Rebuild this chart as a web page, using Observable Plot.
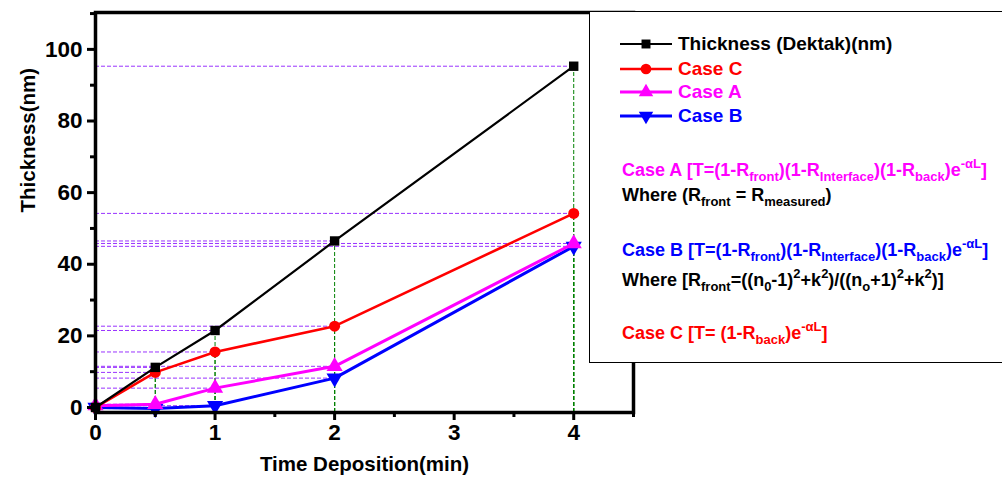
<!DOCTYPE html>
<html>
<head>
<meta charset="utf-8">
<script src="https://cdn.jsdelivr.net/npm/d3@7"></script>
<script src="https://cdn.jsdelivr.net/npm/@observablehq/plot@0.6"></script>
<style>
  html, body { margin: 0; padding: 0; background: #fff; }
  body { width: 1002px; height: 484px; position: relative; overflow: hidden; font-family: "Liberation Sans", Arial, sans-serif; }
  #chart svg text { font-weight: bold; }
  #legend { position: absolute; left: 589px; top: 11px; width: 430px; height: 352px; border: 1px solid #000; background: #fff; box-sizing: border-box; font-weight: bold; font-size: 19px; }
  .row { position: absolute; left: 30px; white-space: nowrap; line-height: 18px; display: flex; align-items: center; }
  .row svg { margin-right: 6px; }
  .f { position: absolute; left: 32px; white-space: nowrap; line-height: 18px; font-size: 18px; }
  .f sub, .f sup { font-size: 13px; line-height: 0; }
  .f sub { vertical-align: -5px; }
  .f sup { vertical-align: 8px; }
</style>
</head>
<body>
<div id="chart"></div>
<div id="legend"></div>
<script>
const times = [0, 0.5, 1, 2, 4];
const dektak = [0, 11.2, 21.5, 46.5, 95.3];
const caseC = [0, 9.8, 15.5, 22.7, 54.2];
const caseA = [0.5, 0.9, 5.4, 11.5, 45.8];
const caseB = [0, -0.3, 0.5, 8.2, 45.0];

const seriesNames = ["Thickness (Dektak)(nm)", "Case C", "Case A", "Case B"];
const seriesColors = ["#000000", "#ff0000", "#ff00ff", "#0000ff"];
const seriesSymbols = ["square", "circle", "triangle", "triangle"];
const seriesRotate = [0, 0, 0, 180];
const seriesWidths = [2.2, 2.6, 3, 3];
const seriesSizes = [5.3, 5.5, 6, 6];
const seriesValues = [dektak, caseC, caseA, caseB];

const xTicks = [0, 1, 2, 3, 4];
const xMinor = [0.5, 1.5, 2.5, 3.5, 4.5];
const yTicks = [0, 20, 40, 60, 80, 100];
const yMinor = [10, 30, 50, 70, 90, 110];
const yDomain = [-1.4, 110.3];
const xDomain = [0, 4.5];
const xTitle = "Time Deposition(min)";
const yTitle = "Thickness(nm)";

const marks = [];
// drop lines
seriesValues.forEach((vals, s) => {
  const pts = times.map((t, i) => ({t, v: vals[i]})).filter(d => d.t > 0);
  marks.push(Plot.ruleY(pts, {y: "v", x1: 0, x2: "t", stroke: "#9933ff", strokeWidth: 1, strokeDasharray: "4,2"}));
  marks.push(Plot.ruleX(pts, {x: "t", y1: yDomain[0], y2: "v", stroke: "#008000", strokeWidth: 1, strokeDasharray: "4,2"}));
});
// lines (draw in reverse order so black on top)
[3, 2, 1, 0].forEach(s => {
  const pts = times.map((t, i) => ({t, v: seriesValues[s][i]}));
  marks.push(Plot.line(pts, {x: "t", y: "v", stroke: seriesColors[s], strokeWidth: seriesWidths[s]}));
  marks.push(Plot.dot(pts, {x: "t", y: "v", symbol: seriesSymbols[s], r: seriesSizes[s], fill: seriesColors[s], stroke: "none", rotate: seriesRotate[s]}));
});
// frame and axes
marks.push(Plot.frame({stroke: "#000", strokeWidth: 3.5}));
marks.push(Plot.axisX({ticks: xTicks, tickSize: 8, strokeWidth: 3, tickPadding: 4, fontSize: 22.5, tickFormat: d => String(d), label: null}));
marks.push(Plot.axisX({ticks: xMinor, tickSize: 5, strokeWidth: 3, text: null, label: null}));
marks.push(Plot.axisY({ticks: yTicks, tickSize: 8, strokeWidth: 3, tickPadding: 5, fontSize: 22.5, label: null}));
marks.push(Plot.axisY({ticks: yMinor, tickSize: 5, strokeWidth: 3, text: null, label: null}));
marks.push(Plot.text([xTitle], {text: d => d, frameAnchor: "bottom", dy: 58, fontSize: 20.5, fontWeight: "bold", fill: "#000"}));
marks.push(Plot.text([yTitle], {text: d => d, frameAnchor: "left", dx: -67, rotate: -90, fontSize: 20.5, fontWeight: "bold", fill: "#000"}));

const chart = Plot.plot({
  width: 1002,
  height: 484,
  marginLeft: 95,
  marginRight: 369,
  marginTop: 12,
  marginBottom: 72,
  x: {domain: xDomain},
  y: {domain: yDomain},
  style: {fontFamily: "'Liberation Sans', Arial, sans-serif", fontSize: "18px", color: "#000", background: "#fff", overflow: "visible"},
  marks
});
document.getElementById("chart").appendChild(chart);

// Legend
const legend = document.getElementById("legend");
const rowTops = [23, 48, 71, 95];
seriesNames.forEach((name, s) => {
  const row = document.createElement("div");
  row.className = "row";
  row.style.top = rowTops[s] + "px";
  const sym = d3.symbol(s === 0 ? d3.symbolSquare : s === 1 ? d3.symbolCircle : d3.symbolTriangle, s === 0 ? 80 : 90)();
  row.innerHTML = `<svg width="52" height="18"><line x1="0" x2="52" y1="9" y2="9" stroke="${seriesColors[s]}" stroke-width="${seriesWidths[s]}"/><path d="${sym}" transform="translate(26,9) rotate(${seriesRotate[s]})" fill="${seriesColors[s]}"/></svg><span style="color:${seriesColors[s]}">${name}</span>`;
  legend.appendChild(row);
});
const formulas = [
  {top: 149, color: "#ff00ff", html: "Case A [T=(1-R<sub>front</sub>)(1-R<sub>Interface</sub>)(1-R<sub>back</sub>)e<sup>-αL</sup>]"},
  {top: 174, color: "#000000", html: "Where (R<sub>front</sub> = R<sub>measured</sub>)"},
  {top: 229, color: "#0000ff", html: "Case B [T=(1-R<sub>front</sub>)(1-R<sub>Interface</sub>)(1-R<sub>back</sub>)e<sup>-αL</sup>]"},
  {top: 259, color: "#000000", html: "Where [R<sub>front</sub>=((n<sub>0</sub>-1)<sup>2</sup>+k<sup>2</sup>)/((n<sub>o</sub>+1)<sup>2</sup>+k<sup>2</sup>)]"},
  {top: 312, color: "#ff0000", html: "Case C [T= (1-R<sub>back</sub>)e<sup>-αL</sup>]"}
];
formulas.forEach(f => {
  const d = document.createElement("div");
  d.className = "f";
  d.style.top = f.top + "px";
  d.style.color = f.color;
  d.innerHTML = f.html;
  legend.appendChild(d);
});
</script>
</body>
</html>
